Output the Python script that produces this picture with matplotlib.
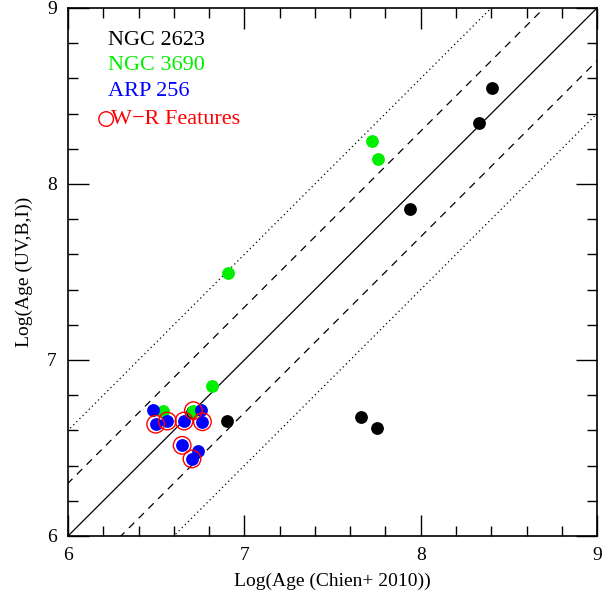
'''
Ages from UV,B,I fitting versus Chien+ 2010 ages
'''
import matplotlib.pyplot as plt
from matplotlib.ticker import MultipleLocator

# NGC 2623
ngc2623_x = [8.405, 8.331, 7.94, 7.66, 7.751, 6.90, 6.703]
ngc2623_y = [8.545, 8.345, 7.856, 6.674, 6.614, 6.653, 6.706]

# NGC 3690
ngc3690_x = [7.723, 7.757, 6.909, 6.817, 6.537, 6.711]
ngc3690_y = [8.244, 8.144, 7.496, 6.854, 6.712, 6.712]

# ARP 256
arp256_x = [6.48, 6.497, 6.563, 6.658, 6.752, 6.762, 6.647, 6.736, 6.703]
arp256_y = [6.716, 6.635, 6.653, 6.653, 6.716, 6.649, 6.515, 6.483, 6.438]

# W-R features
wr_x = [6.711, 6.497, 6.563, 6.658, 6.762, 6.647, 6.703]
wr_y = [6.712, 6.635, 6.653, 6.653, 6.649, 6.515, 6.438]

FONT = 'Liberation Serif'

fig = plt.figure(figsize=(6.13, 5.95), dpi=100)
ax = fig.add_axes([0.111, 0.0992, 0.863, 0.8874])

# one-to-one line and offsets
lx = [5.0, 10.0]
ax.plot(lx, lx, color='black', lw=0.9)
for off in (-0.3, 0.3):
    ax.plot(lx, [v + off for v in lx], color='black', lw=0.9, dashes=(6, 5))
for off in (-0.6, 0.6):
    ax.plot(lx, [v + off for v in lx], color='black', lw=0.9, dashes=(1, 2.5))

ms = 85
ax.scatter(ngc2623_x, ngc2623_y, s=ms, color='black', zorder=3, lw=0)
ax.scatter(ngc3690_x, ngc3690_y, s=ms, color='#00ee00', zorder=4, lw=0)
ax.scatter(arp256_x, arp256_y, s=ms, color='#0000ff', zorder=5, lw=0)
ax.scatter(wr_x, wr_y, s=160, facecolor='none', edgecolor='red', lw=1.0, zorder=6)

ax.set_xlim(6, 9)
ax.set_ylim(6, 9)
ax.xaxis.set_major_locator(MultipleLocator(1))
ax.yaxis.set_major_locator(MultipleLocator(1))
ax.xaxis.set_minor_locator(MultipleLocator(0.2))
ax.yaxis.set_minor_locator(MultipleLocator(0.2))
ax.tick_params(which='both', direction='in', top=True, right=True, width=1)
ax.tick_params(which='major', length=15, labelsize=14, pad=8)
ax.tick_params(which='minor', length=7)
for lab in ax.get_xticklabels() + ax.get_yticklabels():
    lab.set_fontfamily(FONT)
for sp in ax.spines.values():
    sp.set_linewidth(1.2)

ax.set_xlabel('Log(Age (Chien+ 2010))', fontsize=14, family=FONT, labelpad=6)
ax.set_ylabel('Log(Age (UV,B,I))', fontsize=14, family=FONT, labelpad=10)

# legend text
ax.text(6.227, 8.818, 'NGC 2623', color='black', fontsize=16, family=FONT, va='center')
ax.text(6.227, 8.672, 'NGC 3690', color='#00ee00', fontsize=16, family=FONT, va='center')
ax.text(6.227, 8.524, 'ARP 256', color='#0000ff', fontsize=16, family=FONT, va='center')
ax.scatter([6.216], [8.369], s=110, facecolor='none', edgecolor='red', lw=1.0)
ax.text(6.243, 8.369, 'W\u2212R Features', color='red', fontsize=16, family=FONT, va='center')

plt.savefig('out.png', dpi=100)
